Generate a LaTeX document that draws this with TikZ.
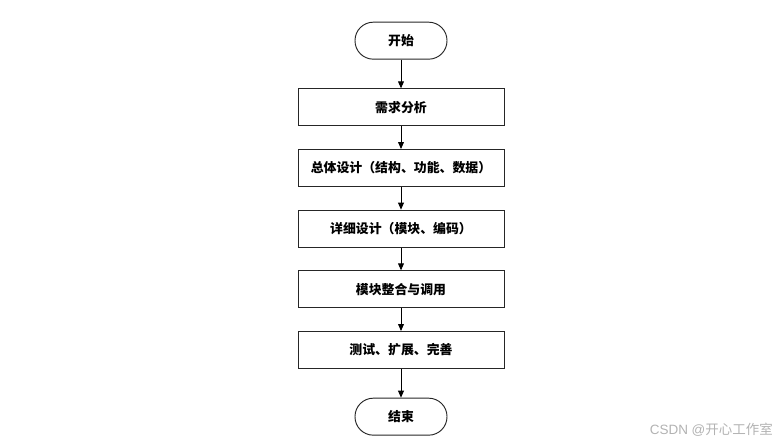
\documentclass[tikz,border=0pt]{standalone}
\usepackage{fontspec}
\setmainfont{Noto Sans CJK SC}
\newfontfamily\markfont{Liberation Sans}
\usetikzlibrary{arrows.meta}

\begin{document}
\begin{tikzpicture}[node distance=1.82cm]
        \tikzstyle{box} = [rectangle, minimum width=6.18cm, minimum height=1.11cm, text centered, draw=black!85, line width=0.8pt, font=\fontsize{11}{13}\selectfont\bfseries]
        \tikzstyle{term} = [rectangle, rounded corners=0.55cm, minimum width=2.76cm, minimum height=1.11cm, text centered, draw=black!85, line width=0.8pt, font=\fontsize{11}{13}\selectfont\bfseries]
        \tikzstyle{arrow} = [-{Triangle[length=6pt,width=5pt]}, line width=0.8pt]

        \useasboundingbox (0,0) rectangle (23.46,-13.35);

        \node (start) [term] at (12.03,-1.22) {开始};
        \node (demand) [box, below of=start, node distance=2cm] {需求分析};
        \node (overall) [box, below of=demand] {总体设计（结构、功能、数据）};
        \node (detail) [box, below of=overall] {详细设计（模块、编码）};
        \node (merge) [box, below of=detail] {模块整合与调用};
        \node (test) [box, below of=merge] {测试、扩展、完善};
        \node (stop) [term, below of=test, node distance=2cm] {结束};

        \draw [arrow] (start) -- (demand);
        \draw [arrow] (demand) -- (overall);
        \draw [arrow] (overall) -- (detail);
        \draw [arrow] (detail) -- (merge);
        \draw [arrow] (merge) -- (test);
        \draw [arrow] (test) -- (stop);

        \node (mark) [anchor=east, inner sep=0pt, text=black!30, font=\fontsize{11.5}{13}\selectfont] at (23.19,-12.9) {{\markfont CSDN @}开心工作室};
    \end{tikzpicture}
\end{document}
